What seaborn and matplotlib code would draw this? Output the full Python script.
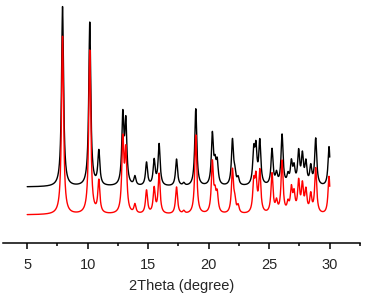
import numpy as np
import pandas as pd
import seaborn as sns
import matplotlib.pyplot as plt
from matplotlib.ticker import MultipleLocator

# peak list: 2theta position and relative intensity
peak_pos = [7.92, 10.17, 10.92, 12.90, 13.15, 13.90, 14.86, 15.49, 15.90, 17.34,
            17.94, 18.93, 20.30, 20.52, 20.70, 21.96, 22.15, 22.43, 23.72, 23.90,
            24.22, 25.23, 25.60, 26.06, 26.55, 26.83, 27.05, 27.43, 27.74, 28.03,
            28.43, 28.84, 29.94]
black_int = [100, 91, 19, 38, 34, 5, 13, 14, 23, 15,
             1.5, 43, 28, 10, 12, 25, 6, 4, 18, 19,
             24, 20, 6, 28, 5, 12, 9, 18, 16, 12,
             10, 26, 22]
red_int = [99, 91, 18, 40, 33, 5, 13, 14, 22, 15,
           1.5, 44, 28, 9, 10, 24, 6, 4, 16, 18,
           23, 22, 6, 29, 5, 13, 10, 17, 15, 12,
           10, 25, 21]
hwhm = 0.1
black_offset = 15.5

two_theta = np.linspace(5, 30, 2501)


def pattern(intens):
    y = np.zeros_like(two_theta)
    for p, h in zip(peak_pos, intens):
        y += h / (1 + ((two_theta - p) / hwhm) ** 2)
    return y


df = pd.DataFrame({"2theta": two_theta,
                   "black": pattern(black_int) + black_offset,
                   "red": pattern(red_int)})

sns.set_theme(style="white")
plt.rcParams['font.family'] = ['Liberation Sans', 'DejaVu Sans']

fig = plt.figure(figsize=(3.68, 2.97), dpi=100)
ax = fig.add_axes([3 / 368, 1 - 243 / 297, 357 / 368, 243 / 297])

sns.lineplot(data=df, x="2theta", y="black", color="black", lw=1.0, ax=ax)
sns.lineplot(data=df, x="2theta", y="red", color="#ff0000", lw=1.0, ax=ax)

ax.set_xlim(3, 32.5)
ax.set_ylim(-15.6, 119.4)
for s in ["left", "top", "right"]:
    ax.spines[s].set_visible(False)
ax.spines["bottom"].set_color("black")
ax.spines["bottom"].set_linewidth(1.1)

ax.xaxis.set_major_locator(MultipleLocator(5))
ax.xaxis.set_minor_locator(MultipleLocator(2.5))
ax.tick_params(axis="x", which="major", direction="out", length=4.5, width=1.1,
               color="black", labelsize=10.5, pad=6, bottom=True)
ax.tick_params(axis="x", which="minor", direction="out", length=2.5, width=1.1,
               color="black", bottom=True)
ax.set_yticks([])
ax.set_ylabel("")
ax.set_xlabel("2Theta (degree)", fontsize=10.5, labelpad=5)

fig.savefig("out.png", dpi=100)
